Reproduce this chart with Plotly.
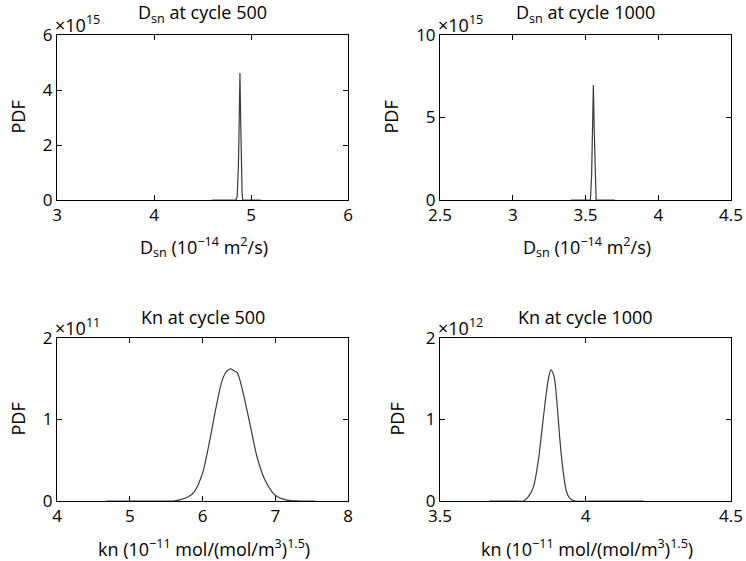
import plotly.graph_objects as go

# ---- Data (y in units of the axis multiplier) ----
dsn500_x = [4.60, 4.80, 4.845, 4.858, 4.870, 4.880, 4.886, 4.893, 4.900, 4.908, 4.915, 4.93, 5.10]
dsn500_y = [0.0, 0.0, 0.0, 0.15, 1.2, 3.2, 4.62, 3.0, 1.2, 0.25, 0.0, 0.0, 0.0]

dsn1000_x = [3.40, 3.50, 3.534, 3.542, 3.548, 3.554, 3.560, 3.566, 3.573, 3.60, 3.70]
dsn1000_y = [0.0, 0.0, 0.0, 1.5, 4.5, 6.97, 4.2, 1.3, 0.0, 0.0, 0.0]

kn500_x = [4.68, 5.20, 5.60, 5.70, 5.80, 5.885, 6.00, 6.11, 6.18, 6.27, 6.33, 6.386,
           6.43, 6.48, 6.57, 6.66, 6.75, 6.86, 7.00, 7.16, 7.34, 7.55]
kn500_y = [0.0, 0.0, 0.0, 0.017, 0.05, 0.11, 0.34, 0.79, 1.12, 1.48, 1.59, 1.62,
           1.60, 1.57, 1.28, 0.91, 0.54, 0.255, 0.07, 0.01, 0.0, 0.0]

kn1000_x = [3.67, 3.75, 3.786, 3.803, 3.821, 3.838, 3.849, 3.861, 3.872, 3.881,
            3.892, 3.903, 3.912, 3.924, 3.935, 3.947, 3.964, 4.05, 4.20]
kn1000_y = [0.0, 0.0, 0.0, 0.05, 0.17, 0.50, 0.83, 1.20, 1.49, 1.61,
            1.53, 1.16, 0.75, 0.34, 0.11, 0.03, 0.0, 0.0, 0.0]

titles = ["D<sub>sn</sub> at cycle 500", "D<sub>sn</sub> at cycle 1000",
          "Kn at cycle 500", "Kn at cycle 1000"]
multipliers = ["×10<sup>15</sup>", "×10<sup>15</sup>", "×10<sup>11</sup>", "×10<sup>12</sup>"]
xlabels = ["D<sub>sn</sub> (10<sup>−14</sup> m<sup>2</sup>/s)",
           "D<sub>sn</sub> (10<sup>−14</sup> m<sup>2</sup>/s)",
           "kn (10<sup>−11</sup> mol/(mol/m<sup>3</sup>)<sup>1.5</sup>)",
           "kn (10<sup>−11</sup> mol/(mol/m<sup>3</sup>)<sup>1.5</sup>)"]
xranges = [[3, 6], [2.5, 4.5], [4, 8], [3.5, 4.5]]
xdticks = [1, 0.5, 1, 0.5]
yranges = [[0, 6], [0, 10], [0, 2], [0, 2]]
ydticks = [2, 5, 1, 1]

W, H = 746, 561
FONT = "Open Sans"
LINE = "#3c3c3c"

# panel pixel boxes (left, right, top, bottom)
boxes = [(57, 348, 35, 200), (440, 731, 35, 200), (57, 348, 338, 501), (440, 731, 338, 501)]
shapes = ["linear", "linear", "spline", "spline"]

fig = go.Figure()
series = [(dsn500_x, dsn500_y), (dsn1000_x, dsn1000_y), (kn500_x, kn500_y), (kn1000_x, kn1000_y)]
for i, (xs, ys) in enumerate(series):
    sfx = "" if i == 0 else str(i + 1)
    line = dict(color=LINE, width=1.2, shape=shapes[i])
    if shapes[i] == "spline":
        line["smoothing"] = 0.8
    fig.add_trace(go.Scatter(x=xs, y=ys, mode="lines", line=line,
                             xaxis="x" + sfx, yaxis="y" + sfx, showlegend=False,
                             hoverinfo="skip"))

layout = dict(template="none", width=W, height=H, margin=dict(l=0, r=0, t=0, b=0, pad=0),
              paper_bgcolor="white", plot_bgcolor="white",
              font=dict(family=FONT, size=17, color="black"), showlegend=False)

annotations = []
pdf_x = [17, 390, 17, 396]
for i, (l, r, t, b) in enumerate(boxes):
    sfx = "" if i == 0 else str(i + 1)
    ax_common = dict(showline=True, linecolor="black", linewidth=1, mirror="allticks",
                     ticks="inside", ticklen=5, tickcolor="black", tickwidth=1,
                     showgrid=False, zeroline=False, layer="below traces",
                     automargin=False,
                     tickfont=dict(family=FONT, size=17, color="black"))
    layout["xaxis" + sfx] = dict(ax_common, domain=[l / W, r / W], range=xranges[i],
                                 dtick=xdticks[i], tick0=xranges[i][0],
                                 anchor="y" + sfx, fixedrange=True)
    layout["yaxis" + sfx] = dict(ax_common, domain=[1 - b / H, 1 - t / H], range=yranges[i],
                                 dtick=ydticks[i], tick0=0,
                                 anchor="x" + sfx, fixedrange=True)
    cx = (l + r) / 2
    # title
    annotations.append(dict(text=titles[i], xref="paper", yref="paper",
                            x=cx / W, y=1 - (t - 21) / H, showarrow=False,
                            xanchor="center", yanchor="middle",
                            font=dict(family=FONT, size=18)))
    # multiplier
    annotations.append(dict(text=multipliers[i], xref="paper", yref="paper",
                            x=(l - 4) / W, y=1 - (t - 11) / H, showarrow=False,
                            xanchor="left", yanchor="middle",
                            font=dict(family=FONT, size=18)))
    # y label
    annotations.append(dict(text="PDF", xref="paper", yref="paper",
                            x=pdf_x[i] / W, y=1 - ((t + b) / 2) / H, showarrow=False,
                            textangle=-90, xanchor="center", yanchor="middle",
                            font=dict(family=FONT, size=18)))
    # x label
    annotations.append(dict(text=xlabels[i], xref="paper", yref="paper",
                            x=(cx + 1) / W, y=1 - (b + 47) / H, showarrow=False,
                            xanchor="center", yanchor="middle",
                            font=dict(family=FONT, size=18)))

layout["annotations"] = annotations
fig.update_layout(**layout)
fig.write_html("out.html")
